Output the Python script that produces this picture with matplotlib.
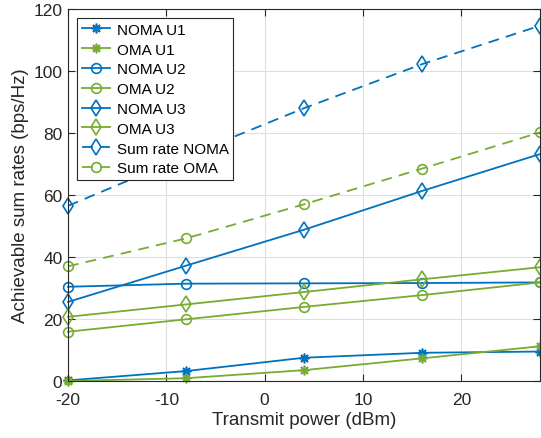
import matplotlib
matplotlib.use("Agg")
import matplotlib.pyplot as plt

plt.rcParams['font.family'] = ['Liberation Sans', 'DejaVu Sans']
plt.rcParams['axes.unicode_minus'] = False

power = [-20, -8, 4, 16, 28]
noma_u1 = [0.2, 3.2, 7.5, 9.1, 9.5]
oma_u1 = [0.0, 0.9, 3.5, 7.3, 11.2]
noma_u2 = [30.4, 31.4, 31.5, 31.6, 31.8]
oma_u2 = [15.9, 19.9, 23.9, 27.7, 31.8]
noma_u3 = [25.5, 37.2, 48.8, 61.3, 73.2]
oma_u3 = [20.7, 24.7, 28.7, 32.8, 36.7]
sum_noma = [56.5, 72.5, 88.0, 102.2, 114.6]
sum_oma = [37.0, 46.0, 57.0, 68.5, 80.2]

blue = '#0072BD'
green = '#77AC30'
ast = (8, 2, 0)

fig = plt.figure(figsize=(5.41, 4.39), dpi=100)
ax = fig.add_axes([68/541, 1-382/439, (540-68)/541, (382-10)/439])

lw = 1.3
ms = 7
mew = 1.2
series = [
    (noma_u1, blue, ast, '-', 'NOMA U1'),
    (oma_u1, green, ast, '-', 'OMA U1'),
    (noma_u2, blue, 'o', '-', 'NOMA U2'),
    (oma_u2, green, 'o', '-', 'OMA U2'),
    (noma_u3, blue, 'd', '-', 'NOMA U3'),
    (oma_u3, green, 'd', '-', 'OMA U3'),
    (sum_noma, blue, 'd', '--', 'Sum rate NOMA'),
    (sum_oma, green, 'o', '--', 'Sum rate OMA'),
]
for vals, c, m, ls, lab in series:
    kw = dict(dashes=(6, 4)) if ls == '--' else {}
    ax.plot(power, vals, color=c, marker=m, linestyle=ls, linewidth=lw,
            markersize=ms if m != 'd' else ms + 1, markerfacecolor='none',
            markeredgewidth=mew, label=lab, clip_on=False, **kw)

ax.set_xlim(-20, 28)
ax.set_ylim(0, 120)
ax.set_xticks([-20, -10, 0, 10, 20])
ax.set_yticks([0, 20, 40, 60, 80, 100, 120])
ax.tick_params(axis='both', direction='in', labelsize=12.5, length=5, color='#262626',
               labelcolor='#262626', top=True, right=True)
ax.tick_params(axis='x', pad=8)
ax.tick_params(axis='y', pad=4)
ax.grid(True, color='#DFDFDF', linewidth=0.8)
ax.set_axisbelow(True)
for s in ax.spines.values():
    s.set_color('#262626')
    s.set_linewidth(0.8)
ax.set_xlabel('Transmit power (dBm)', fontsize=13.5, color='#262626', labelpad=3)
ax.set_ylabel('Achievable sum rates (bps/Hz)', fontsize=13.5, color='#262626', labelpad=3)

leg = ax.legend(loc='upper left', fontsize=11, frameon=True, fancybox=False,
                edgecolor='#262626', framealpha=1, borderpad=0.3, labelspacing=0.38,
                handlelength=1.85, handletextpad=0.45, borderaxespad=0.6)
leg.get_frame().set_linewidth(0.8)

fig.savefig('out.png', dpi=100)
